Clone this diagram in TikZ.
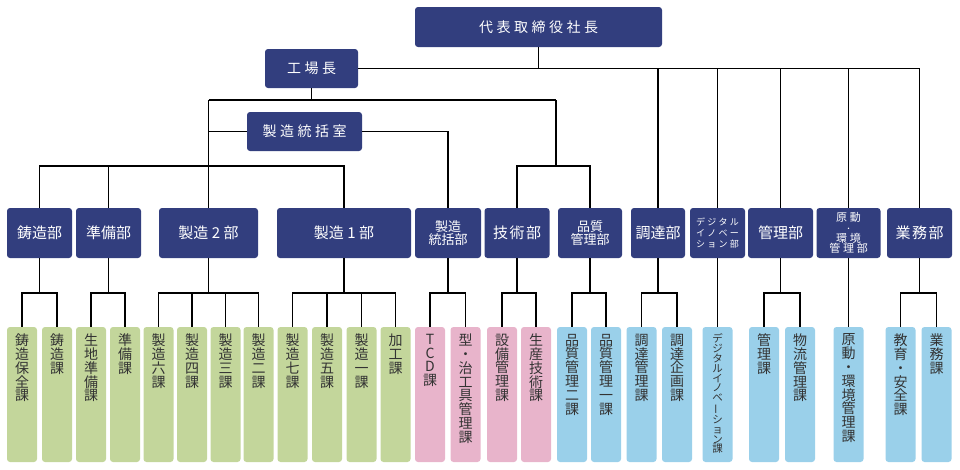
\documentclass[tikz,border=0pt]{standalone}
\usepackage{fontspec}
\setmainfont{Noto Sans CJK JP}
\newfontfamily\jpsp[LetterSpace=25]{Noto Sans CJK JP}
\newfontfamily\jpspb[LetterSpace=10]{Noto Sans CJK JP}
\definecolor{navy}{HTML}{323E7E}
\definecolor{sgreen}{HTML}{C3D69B}
\definecolor{spink}{HTML}{E8B4CB}
\definecolor{sblue}{HTML}{9AD0EA}
\definecolor{stext}{HTML}{333333}
\newcommand{\sectnode}[5][]{%
  \node[sect, fill=#4] (#2) at (#3,394.5) {};
  \node[stxt,#1] (#2t) at ([yshift=-7pt]#2.north) {#5};}
\begin{document}
\begin{tikzpicture}[x=1pt,y=-1pt,
  head/.style={fill=navy, rounded corners=3pt, text=white, inner sep=0pt, align=center},
  dept/.style={head, minimum height=50pt, font=\fontsize{15}{15}\selectfont},
  sect/.style={rounded corners=3pt, minimum width=30pt, minimum height=135pt, inner sep=0pt},
  stxt/.style={anchor=north, inner sep=0pt, align=center, text=stext, font=\fontsize{14}{13.8}\selectfont},
  conn/.style={draw=black, line width=1.2pt}]
\useasboundingbox (0,0) rectangle (960,469);

% top level
\node[head, minimum width=247pt, minimum height=40pt, font=\jpsp\fontsize{14}{14}\selectfont] (ceo) at (538.5,27) {代表取締役社長};
\node[head, minimum width=93pt, minimum height=39pt, font=\jpsp\fontsize{14}{14}\selectfont] (plant) at (311.5,68.5) {工場長};
\node[head, minimum width=115pt, minimum height=39pt, font=\jpsp\fontsize{14}{14}\selectfont] (room) at (304.5,131.5) {製造統括室};

% departments
\node[dept, minimum width=65pt] (chuzo) at (39.5,233) {鋳造部};
\node[dept, minimum width=65pt] (junbi) at (108.5,233) {準備部};
\node[dept, minimum width=99pt] (seizo2) at (208.5,233) {製造 2 部};
\node[dept, minimum width=134pt] (seizo1) at (344,233) {製造 1 部};
\node[dept, minimum width=66pt, font=\fontsize{13}{13}\selectfont] (stokatsu) at (448,233) {製造\\統括部};
\node[dept, minimum width=65pt, font=\jpspb\fontsize{15}{15}\selectfont] (gijutsu) at (517,233) {技術部};
\node[dept, minimum width=64pt, font=\fontsize{13}{13}\selectfont] (hinshitsu) at (590,233) {品質\\管理部};
\node[dept, minimum width=54pt] (chotatsu) at (658,233) {調達部};
\node[dept, minimum width=55pt, font=\jpsp\fontsize{9}{11}\selectfont] (digital) at (717.5,233) {デジタル\\イノベー\\ション部};
\node[dept, minimum width=65pt] (kanri) at (780.5,233) {管理部};
\node[dept, minimum width=64pt, font=\jpsp\fontsize{11}{10.5}\selectfont] (gendo) at (848.5,233) {原動\\{\fontsize{7}{7}\selectfont ・}\\環境\\管理部};
\node[dept, minimum width=65pt, font=\jpspb\fontsize{15}{15}\selectfont] (gyomu) at (919.5,233) {業務部};

% sections
\sectnode{s1}{22}{sgreen}{鋳\\造\\保\\全\\課}
\sectnode{s2}{57}{sgreen}{鋳\\造\\課}
\sectnode{s3}{91}{sgreen}{生\\地\\準\\備\\課}
\sectnode{s4}{125}{sgreen}{準\\備\\課}
\sectnode{s5}{158.5}{sgreen}{製\\造\\六\\課}
\sectnode{s6}{192}{sgreen}{製\\造\\四\\課}
\sectnode{s7}{225.5}{sgreen}{製\\造\\三\\課}
\sectnode{s8}{258.5}{sgreen}{製\\造\\二\\課}
\sectnode{s9}{292.5}{sgreen}{製\\造\\七\\課}
\sectnode{s10}{327}{sgreen}{製\\造\\五\\課}
\sectnode{s11}{361.5}{sgreen}{製\\造\\一\\課}
\sectnode{s12}{395.5}{sgreen}{加\\工\\課}
\sectnode{s13}{430}{spink}{T\\C\\D\\課}
\sectnode{s14}{465.5}{spink}{型\\・\\治\\工\\具\\管\\理\\課}
\sectnode{s15}{502}{spink}{設\\備\\管\\理\\課}
\sectnode{s16}{536}{spink}{生\\産\\技\\術\\課}
\sectnode{s17}{572}{sblue}{品\\質\\管\\理\\二\\課}
\sectnode{s18}{606}{sblue}{品\\質\\管\\理\\一\\課}
\sectnode{s19}{641.5}{sblue}{調\\達\\管\\理\\課}
\sectnode{s20}{677}{sblue}{調\\達\\企\\画\\課}
\sectnode[font=\fontsize{10.5}{9.8}\selectfont]{s21}{717.5}{sblue}{デ\\ジ\\タ\\ル\\イ\\ノ\\ベ\\\rotatebox[origin=c]{90}{ー}\\シ\\ョ\\ン\\課}
\sectnode{s22}{764}{sblue}{管\\理\\課}
\sectnode{s23}{800}{sblue}{物\\流\\管\\理\\課}
\sectnode{s24}{848.5}{sblue}{原\\動\\・\\環\\境\\管\\理\\課}
\sectnode{s25}{900.5}{sblue}{教\\育\\・\\安\\全\\課}
\sectnode{s26}{936.5}{sblue}{業\\務\\課}

% upper connectors
\draw[conn] (ceo.south) -- (ceo.south |- plant.east);
\draw[conn] (plant.east) -| (gyomu.north);
\foreach \n in {chotatsu,digital,kanri,gendo}
  \draw[conn] (\n.north) -- (\n.north |- plant.east);
\coordinate (b2L) at (208.5,100);
\coordinate (b2R) at (556,100);
\coordinate (b3) at (208.5,166);
\coordinate (b4) at (556,166);
\draw[conn] (plant.south) -- (plant.south |- b2L);
\draw[conn] (b2L) -- (b2R);
\draw[conn] (b2L) -- (seizo2.north);
\draw[conn] (room.west) -- (room.west -| b2L);
\draw[conn] (room.east) -| (stokatsu.north);
\draw[conn] (chuzo.north) |- (b3) -| (seizo1.north);
\draw[conn] (junbi.north) -- (junbi.north |- b3);
\draw[conn] (b2R) -- (b4);
\draw[conn] (gijutsu.north) |- (b4) -| (hinshitsu.north);

% lower brackets
\coordinate (brk) at (0,293);
\foreach \d in {chuzo,junbi,seizo2,seizo1,stokatsu,gijutsu,hinshitsu,chotatsu,kanri,gyomu}
  \draw[conn] (\d.south) -- (brk -| \d.south);
\foreach \a/\b in {s1/s2,s3/s4,s5/s8,s9/s12,s13/s14,s15/s16,s17/s18,s19/s20,s22/s23,s25/s26}
  \draw[conn] (\a.north) |- (brk -| \b.north) -- (\b.north);
\foreach \m in {s6,s7,s10,s11}
  \draw[conn] (\m.north) -- (brk -| \m.north);
\draw[conn] (digital.south) -- (s21.north);
\draw[conn] (gendo.south) -- (s24.north);
\end{tikzpicture}
\end{document}
